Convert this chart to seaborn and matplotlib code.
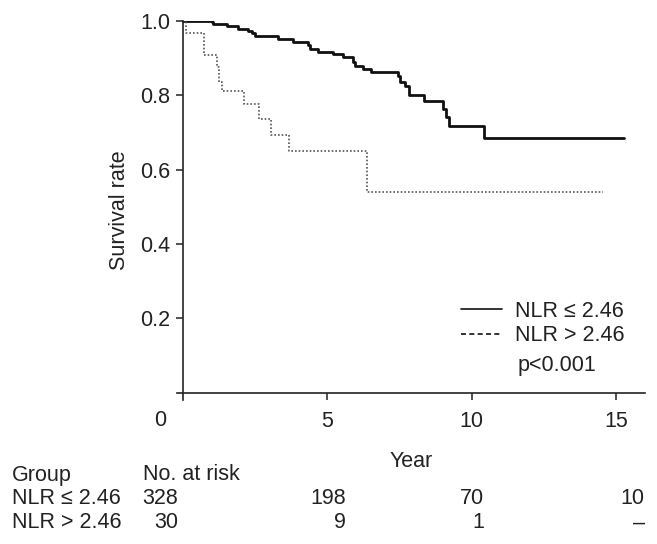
import numpy as np
import pandas as pd
import matplotlib
matplotlib.use("Agg")
import matplotlib.pyplot as plt
import matplotlib.transforms as mtransforms
from matplotlib.lines import Line2D
import seaborn as sns

# Kaplan-Meier steps (time in years, survival after the step)
low_times = [0, 0.78, 1.01, 1.05, 1.54, 1.92, 2.26, 2.39, 2.51, 3.30, 3.82, 4.34, 4.41,
             4.68, 5.20, 5.55, 5.89, 5.95, 6.24, 6.52, 7.45, 7.52, 7.69, 7.83, 8.35,
             9.00, 9.11, 9.21, 10.42, 15.26]
low_surv = [1.0, 0.998, 0.996, 0.990, 0.986, 0.979, 0.973, 0.966, 0.960, 0.950, 0.944,
            0.935, 0.923, 0.917, 0.910, 0.902, 0.890, 0.878, 0.870, 0.862, 0.852, 0.836,
            0.825, 0.801, 0.783, 0.763, 0.741, 0.717, 0.686, 0.686]

high_times = [0, 0.12, 0.74, 1.18, 1.27, 1.36, 2.13, 2.64, 3.06, 3.68, 6.38, 14.53]
high_surv = [1.0, 0.968, 0.908, 0.877, 0.836, 0.812, 0.776, 0.736, 0.693, 0.650, 0.541, 0.541]

groups = ["NLR \u2264 2.46", "NLR > 2.46"]
risk_times = [0, 5, 10, 15]
risk_low = ["328", "198", "70", "10"]
risk_high = ["30", "9", "1", "\u2013"]
p_text = "p<0.001"

df = pd.concat([
    pd.DataFrame({"Year": low_times, "Survival": low_surv, "Group": groups[0]}),
    pd.DataFrame({"Year": high_times, "Survival": high_surv, "Group": groups[1]}),
])

sns.set_style("ticks")
plt.rcParams["font.family"] = ["Liberation Sans", "DejaVu Sans"]
plt.rcParams["font.size"] = 15.5

fig = plt.figure(figsize=(6.57, 5.44), dpi=100)
ax = fig.add_axes([0.2694, 0.2647, 0.7123, 0.6972])

sns.lineplot(data=df[df["Group"] == groups[0]], x="Year", y="Survival", ax=ax,
             estimator=None, sort=False, drawstyle="steps-post",
             color="#111111", linewidth=2.0)
sns.lineplot(data=df[df["Group"] == groups[1]], x="Year", y="Survival", ax=ax,
             estimator=None, sort=False, drawstyle="steps-post",
             color="#555555", linewidth=1.2, linestyle=(0, (1, 1.2)))

ax.set_xlim(-0.2, 16.0)
ax.set_ylim(-0.019, 1.0)
ax.spines["top"].set_visible(False)
ax.spines["right"].set_visible(False)
ax.spines["bottom"].set_position(("data", 0))
ax.spines["left"].set_position(("data", 0))
for s in ["left", "bottom"]:
    ax.spines[s].set_linewidth(1.2)
    ax.spines[s].set_color("#222222")

ax.set_xticks([5, 10, 15])
ax.set_yticks([0.2, 0.4, 0.6, 0.8, 1.0])
ax.set_yticklabels(["0.2", "0.4", "0.6", "0.8", "1.0"])
ax.tick_params(axis="both", length=5, width=1.1, colors="#222222", labelsize=15.5,
               labelcolor="#222222")
ax.tick_params(axis="x", pad=8)
ax.tick_params(axis="y", pad=4)
ax.set_xlabel("Year", fontsize=15.5, labelpad=14, color="#222222")
ax.set_ylabel("Survival rate", fontsize=15.5, labelpad=7, color="#222222")
fig.text(160 / 657, 1 - 420 / 544, "0", ha="center", va="center", fontsize=15.5, color="#222222")

handles = [Line2D([], [], color="#111111", linewidth=1.2),
           Line2D([], [], color="#111111", linewidth=1.2, linestyle=(0, (3, 2)))]
fig.legend(handles, groups, loc="upper left", bbox_to_anchor=(0.7017, 0.4467),
           frameon=False, fontsize=15.5, handlelength=1.9, handletextpad=0.6,
           labelspacing=0.15, borderpad=0, borderaxespad=0, labelcolor="#222222")
fig.text(518 / 657, 1 - 365 / 544, p_text, ha="left", va="center", fontsize=15.5, color="#222222")

# number at risk table
trans = mtransforms.blended_transform_factory(ax.transData, fig.transFigure)
row_y = [1 - 475 / 544, 1 - 499 / 544, 1 - 523 / 544]
col_x = [-0.16, 5.65, 10.42, 15.99]
fig.text(12 / 657, row_y[0], "Group", ha="left", va="center", fontsize=15.5, color="#222222")
fig.text(143 / 657, row_y[0], "No. at risk", ha="left", va="center", fontsize=15.5, color="#222222")
for r, (name, counts) in enumerate(zip(groups, [risk_low, risk_high])):
    fig.text(12 / 657, row_y[r + 1], name, ha="left", va="center", fontsize=15.5, color="#222222")
    for x, c in zip(col_x, counts):
        ax.text(x, row_y[r + 1], c, transform=trans, ha="right", va="center",
                fontsize=15.5, color="#222222", clip_on=False)

fig.savefig("out.png", dpi=100)
